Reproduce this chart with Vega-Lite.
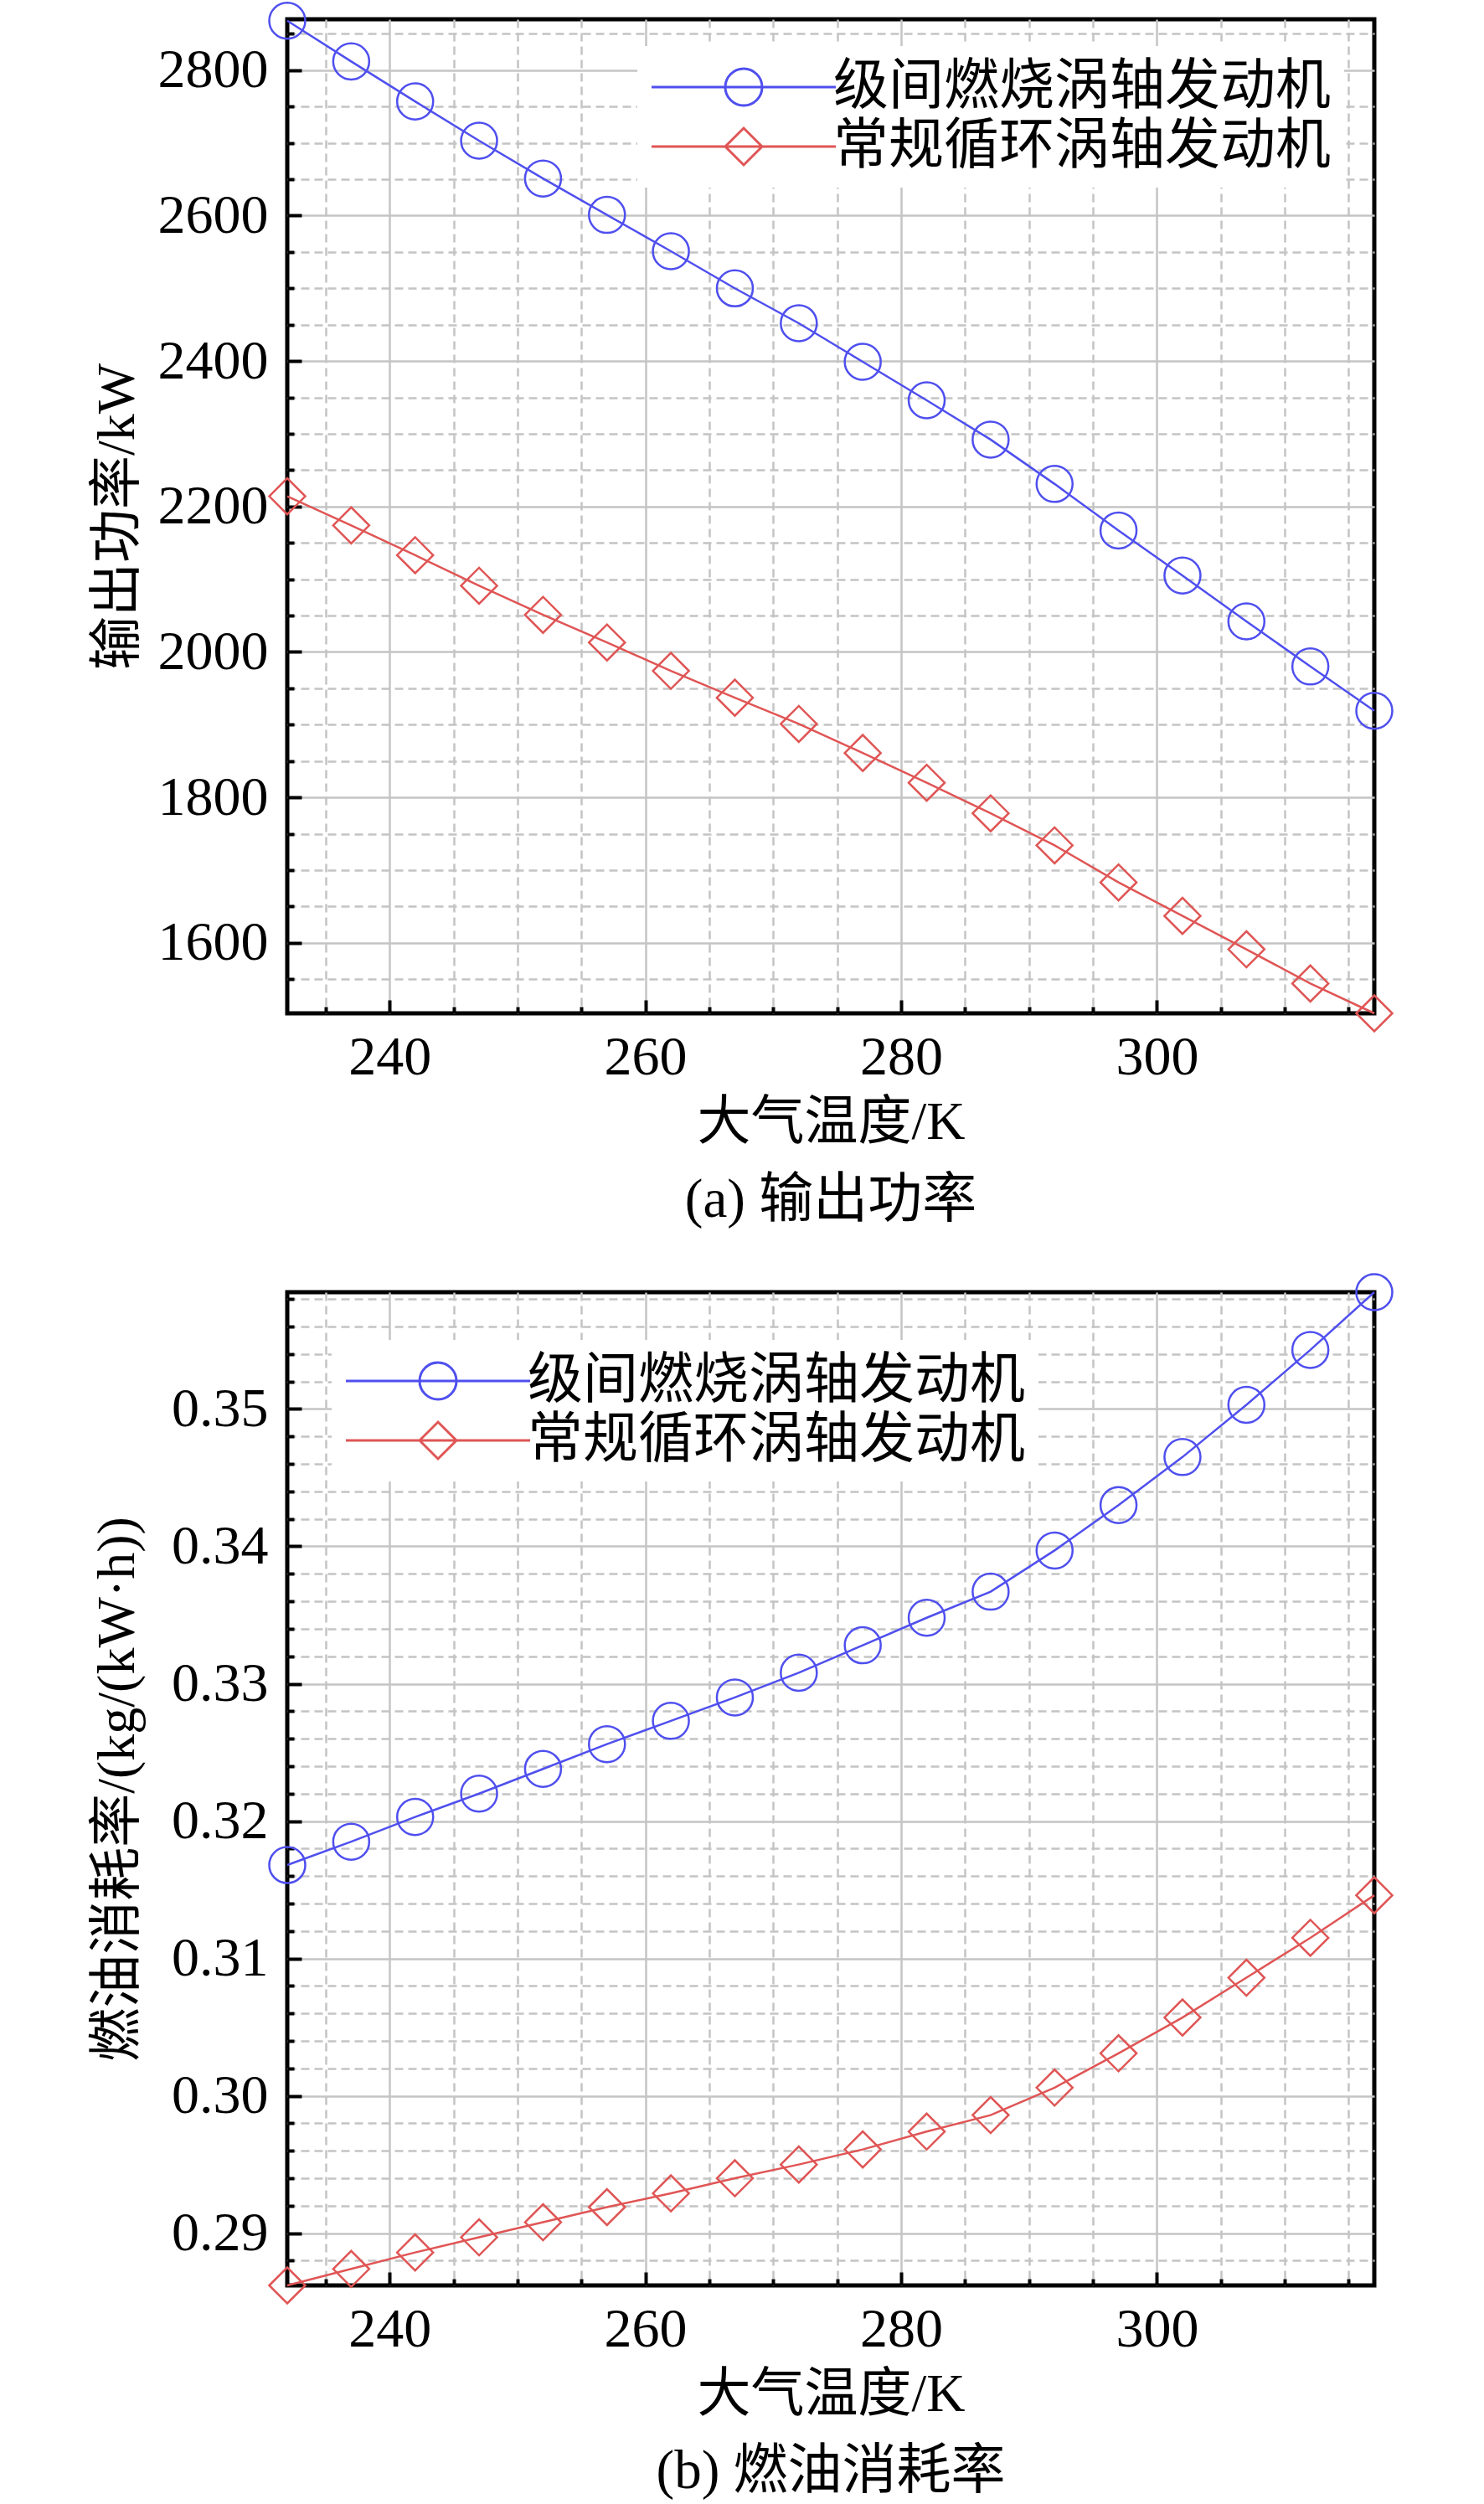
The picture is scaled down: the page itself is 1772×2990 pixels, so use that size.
{
  "$schema": "https://vega.github.io/schema/vega-lite/v6.json",
  "padding": {"left": 105, "top": -5, "right": 10, "bottom": 10},
  "background": "white",
  "config": {
    "view": {"stroke": "black", "strokeWidth": 5},
    "font": "Liberation Serif, Noto Sans CJK SC",
    "axis": {
      "domain": false,
      "grid": true,
      "gridColor": "#C4C4C4",
      "gridWidth": 2.5,
      "tickColor": "black",
      "tickWidth": 4,
      "labelFont": "Liberation Serif",
      "labelFontSize": 66,
      "labelColor": "black",
      "titleFont": "Liberation Serif, Noto Sans CJK SC",
      "titleFontSize": 64,
      "titleFontWeight": "normal",
      "titleColor": "black"
    },
    "legend": {
      "orient": "none",
      "fillColor": "white",
      "padding": 16,
      "rowPadding": 5,
      "labelFont": "Liberation Serif, Noto Sans CJK SC",
      "labelFontSize": 66,
      "labelColor": "black",
      "symbolSize": 1936,
      "symbolOffset": 78,
      "labelOffset": 74,
      "labelLimit": 0,
      "symbolStrokeWidth": 3,
      "symbolOpacity": 1
    },
    "title": {"font": "Liberation Serif, Noto Sans CJK SC", "fontSize": 65, "fontWeight": "normal", "color": "black"}
  },
  "datasets": {
    "d": [
      {"T": 232, "series": "级间燃烧涡轴发动机", "P": 2868, "sfc": 0.3168},
      {"T": 237, "series": "级间燃烧涡轴发动机", "P": 2812, "sfc": 0.3185},
      {"T": 242, "series": "级间燃烧涡轴发动机", "P": 2757, "sfc": 0.3203},
      {"T": 247, "series": "级间燃烧涡轴发动机", "P": 2703, "sfc": 0.3220},
      {"T": 252, "series": "级间燃烧涡轴发动机", "P": 2651, "sfc": 0.3238},
      {"T": 257, "series": "级间燃烧涡轴发动机", "P": 2601, "sfc": 0.3256},
      {"T": 262, "series": "级间燃烧涡轴发动机", "P": 2551, "sfc": 0.3273},
      {"T": 267, "series": "级间燃烧涡轴发动机", "P": 2500, "sfc": 0.3290},
      {"T": 272, "series": "级间燃烧涡轴发动机", "P": 2452, "sfc": 0.3308},
      {"T": 277, "series": "级间燃烧涡轴发动机", "P": 2399, "sfc": 0.3328},
      {"T": 282, "series": "级间燃烧涡轴发动机", "P": 2346, "sfc": 0.3348},
      {"T": 287, "series": "级间燃烧涡轴发动机", "P": 2292, "sfc": 0.3367},
      {"T": 292, "series": "级间燃烧涡轴发动机", "P": 2231, "sfc": 0.3397},
      {"T": 297, "series": "级间燃烧涡轴发动机", "P": 2167, "sfc": 0.3430},
      {"T": 302, "series": "级间燃烧涡轴发动机", "P": 2105, "sfc": 0.3465},
      {"T": 307, "series": "级间燃烧涡轴发动机", "P": 2042, "sfc": 0.3503},
      {"T": 312, "series": "级间燃烧涡轴发动机", "P": 1980, "sfc": 0.3543},
      {"T": 317, "series": "级间燃烧涡轴发动机", "P": 1919, "sfc": 0.3585},
      {"T": 232, "series": "常规循环涡轴发动机", "P": 2214, "sfc": 0.2862},
      {"T": 237, "series": "常规循环涡轴发动机", "P": 2174, "sfc": 0.2874},
      {"T": 242, "series": "常规循环涡轴发动机", "P": 2133, "sfc": 0.2886},
      {"T": 247, "series": "常规循环涡轴发动机", "P": 2091, "sfc": 0.2897},
      {"T": 252, "series": "常规循环涡轴发动机", "P": 2051, "sfc": 0.2908},
      {"T": 257, "series": "常规循环涡轴发动机", "P": 2013, "sfc": 0.2919},
      {"T": 262, "series": "常规循环涡轴发动机", "P": 1974, "sfc": 0.2929},
      {"T": 267, "series": "常规循环涡轴发动机", "P": 1937, "sfc": 0.2940},
      {"T": 272, "series": "常规循环涡轴发动机", "P": 1901, "sfc": 0.2950},
      {"T": 277, "series": "常规循环涡轴发动机", "P": 1861, "sfc": 0.2961},
      {"T": 282, "series": "常规循环涡轴发动机", "P": 1820, "sfc": 0.2974},
      {"T": 287, "series": "常规循环涡轴发动机", "P": 1778, "sfc": 0.2986},
      {"T": 292, "series": "常规循环涡轴发动机", "P": 1734, "sfc": 0.3006},
      {"T": 297, "series": "常规循环涡轴发动机", "P": 1683, "sfc": 0.3031},
      {"T": 302, "series": "常规循环涡轴发动机", "P": 1637, "sfc": 0.3057},
      {"T": 307, "series": "常规循环涡轴发动机", "P": 1591, "sfc": 0.3086},
      {"T": 312, "series": "常规循环涡轴发动机", "P": 1544, "sfc": 0.3115},
      {"T": 317, "series": "常规循环涡轴发动机", "P": 1503, "sfc": 0.3146}
    ]
  },
  "spacing": 333,
  "bounds": "flush",
  "resolve": {"scale": {"color": "independent", "shape": "independent"}, "legend": {"color": "independent", "shape": "independent"}},
  "vconcat": [
    {
      "width": 1298,
      "height": 1187,
      "data": {"name": "d"},
      "title": {"text": "(a) 输出功率", "orient": "bottom", "anchor": "middle", "frame": "group", "offset": 30},
      "encoding": {
        "x": {
          "field": "T", "type": "quantitative",
          "scale": {"domain": [232, 317], "nice": false, "zero": false},
          "axis": {
            "title": "大气温度/K",
            "values": [235, 240, 245, 250, 255, 260, 265, 270, 275, 280, 285, 290, 295, 300, 305, 310, 315],
            "format": "d",
            "labelExpr": "datum.value % 20 === 0 ? datum.label : ''",
            "tickSize": {"condition": {"test": "datum.value % 20 === 0", "value": -16}, "value": -8},
            "gridDash": {"condition": {"test": "datum.value % 20 === 0", "value": []}, "value": [10, 6]},
            "labelPadding": 36,
            "labelFlush": false,
            "labelOverlap": false,
            "titleY": 130,
            "titleBaseline": "middle"
          }
        },
        "y": {
          "field": "P", "type": "quantitative",
          "scale": {"domain": [1503, 2870], "nice": false, "zero": false},
          "axis": {
            "title": "输出功率/kW",
            "values": [1550, 1600, 1650, 1700, 1750, 1800, 1850, 1900, 1950, 2000, 2050, 2100, 2150, 2200, 2250, 2300, 2350, 2400, 2450, 2500, 2550, 2600, 2650, 2700, 2750, 2800, 2850],
            "format": "d",
            "labelExpr": "datum.value % 200 === 0 ? datum.label : ''",
            "tickSize": {"condition": {"test": "datum.value % 200 === 0", "value": -17}, "value": -8},
            "gridDash": {"condition": {"test": "datum.value % 200 === 0", "value": []}, "value": [10, 6]},
            "labelPadding": 40,
            "labelFlush": false,
            "labelOverlap": false,
            "titleX": -203,
            "titleBaseline": "middle"
          }
        },
        "color": {
          "field": "series", "type": "nominal",
          "scale": {"domain": ["级间燃烧涡轴发动机", "常规循环涡轴发动机"], "range": ["#4F4FEF", "#E05555"]},
          "legend": {"title": null, "legendX": 418, "legendY": 32}
        }
      },
      "layer": [
        {"mark": {"type": "line", "strokeWidth": 2.5}},
        {
          "mark": {"type": "point", "filled": false, "strokeWidth": 2.5, "size": 1850, "opacity": 1},
          "encoding": {
            "shape": {"condition": {"test": "datum.series === '级间燃烧涡轴发动机'", "value": "circle"}, "value": "diamond"}
          }
        },
        {
          "transform": [{"filter": "false"}],
          "mark": {"type": "point", "filled": false, "strokeWidth": 2.5, "opacity": 1},
          "encoding": {
            "shape": {
              "field": "series", "type": "nominal",
              "scale": {"domain": ["级间燃烧涡轴发动机", "常规循环涡轴发动机"], "range": ["M-5,0H5M-1,0A1,1 0 1,0 1,0A1,1 0 1,0 -1,0", "M-5,0H5M-1,0L0,-1L1,0L0,1Z"]},
              "legend": {"title": null, "legendX": 418, "legendY": 32}
            }
          }
        }
      ]
    },
    {
      "width": 1298,
      "height": 1186,
      "data": {"name": "d"},
      "title": {"text": "(b) 燃油消耗率", "orient": "bottom", "anchor": "middle", "frame": "group", "offset": 29},
      "encoding": {
        "x": {
          "field": "T", "type": "quantitative",
          "scale": {"domain": [232, 317], "nice": false, "zero": false},
          "axis": {
            "title": "大气温度/K",
            "values": [235, 240, 245, 250, 255, 260, 265, 270, 275, 280, 285, 290, 295, 300, 305, 310, 315],
            "format": "d",
            "labelExpr": "datum.value % 20 === 0 ? datum.label : ''",
            "tickSize": {"condition": {"test": "datum.value % 20 === 0", "value": -16}, "value": -8},
            "gridDash": {"condition": {"test": "datum.value % 20 === 0", "value": []}, "value": [10, 6]},
            "labelPadding": 36,
            "labelFlush": false,
            "labelOverlap": false,
            "titleY": 130,
            "titleBaseline": "middle"
          }
        },
        "y": {
          "field": "sfc", "type": "quantitative",
          "scale": {"domain": [0.2862, 0.3585], "nice": false, "zero": false},
          "axis": {
            "title": "燃油消耗率/(kg/(kW·h))",
            "values": [0.288, 0.29, 0.292, 0.294, 0.296, 0.298, 0.3, 0.302, 0.304, 0.306, 0.308, 0.31, 0.312, 0.314, 0.316, 0.318, 0.32, 0.322, 0.324, 0.326, 0.328, 0.33, 0.332, 0.334, 0.336, 0.338, 0.34, 0.342, 0.344, 0.346, 0.348, 0.35, 0.352, 0.354, 0.356, 0.358],
            "format": ".2f",
            "labelExpr": "abs(datum.value * 100 - round(datum.value * 100)) < 0.001 ? datum.label : ''",
            "tickSize": {"condition": {"test": "abs(datum.value * 100 - round(datum.value * 100)) < 0.001", "value": -17}, "value": -8},
            "gridDash": {"condition": {"test": "abs(datum.value * 100 - round(datum.value * 100)) < 0.001", "value": []}, "value": [10, 6]},
            "labelPadding": 40,
            "labelFlush": false,
            "labelOverlap": false,
            "titleX": -203,
            "titleBaseline": "middle"
          }
        },
        "color": {
          "field": "series", "type": "nominal",
          "scale": {"domain": ["级间燃烧涡轴发动机", "常规循环涡轴发动机"], "range": ["#4F4FEF", "#E05555"]},
          "legend": {"title": null, "legendX": 53, "legendY": 57}
        }
      },
      "layer": [
        {"mark": {"type": "line", "strokeWidth": 2.5}},
        {
          "mark": {"type": "point", "filled": false, "strokeWidth": 2.5, "size": 1850, "opacity": 1},
          "encoding": {
            "shape": {"condition": {"test": "datum.series === '级间燃烧涡轴发动机'", "value": "circle"}, "value": "diamond"}
          }
        },
        {
          "transform": [{"filter": "false"}],
          "mark": {"type": "point", "filled": false, "strokeWidth": 2.5, "opacity": 1},
          "encoding": {
            "shape": {
              "field": "series", "type": "nominal",
              "scale": {"domain": ["级间燃烧涡轴发动机", "常规循环涡轴发动机"], "range": ["M-5,0H5M-1,0A1,1 0 1,0 1,0A1,1 0 1,0 -1,0", "M-5,0H5M-1,0L0,-1L1,0L0,1Z"]},
              "legend": {"title": null, "legendX": 53, "legendY": 57}
            }
          }
        }
      ]
    }
  ]
}
